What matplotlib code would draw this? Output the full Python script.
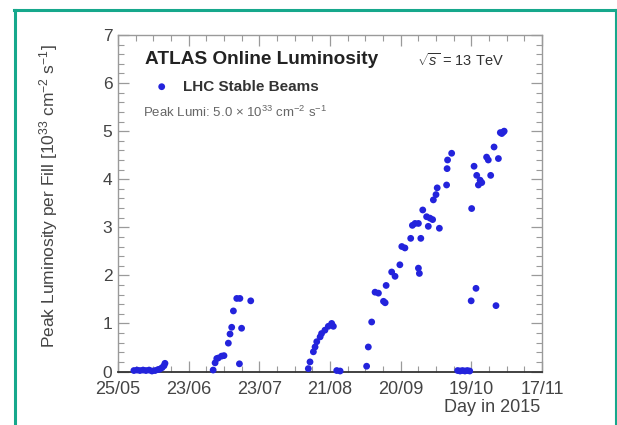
import matplotlib
matplotlib.use("Agg")
import matplotlib.pyplot as plt
from matplotlib.lines import Line2D
from matplotlib.ticker import MultipleLocator, FixedLocator
import numpy as np

plt.rcParams["font.family"] = ["Liberation Sans", "DejaVu Sans"]
plt.rcParams["mathtext.fontset"] = "custom"
plt.rcParams["mathtext.rm"] = "Liberation Sans"
plt.rcParams["mathtext.it"] = "Liberation Sans:italic"

# Day axis: days counted from 25 May 2015
tick_labels = ["25/05", "23/06", "23/07", "21/08", "20/09", "19/10", "17/11"]
x_span = 176.0

# Peak luminosity per fill [1e33 cm^-2 s^-1]
june_day = [6.6, 7.9, 9.1, 10.4, 11.6, 12.9, 14.1, 15.4, 16.6, 17.4, 18.3, 19.1, 19.5]
june_lumi = [0.02, 0.03, 0.02, 0.03, 0.02, 0.03, 0.01, 0.02, 0.04, 0.05, 0.08, 0.12, 0.17]

july_day = [39.5, 40.3, 41.0, 41.6, 43.0, 44.0, 45.8, 46.5, 47.2, 47.9, 49.3, 50.6, 51.3, 50.4, 55.1]
july_lumi = [0.03, 0.18, 0.27, 0.28, 0.32, 0.33, 0.59, 0.78, 0.92, 1.26, 1.52, 1.52, 0.90, 0.16, 1.47]

aug_day = [79.0, 79.7, 81.1, 81.8, 82.5, 83.9, 84.5, 85.9, 87.3, 88.7, 89.4, 90.8, 92.2]
aug_lumi = [0.06, 0.20, 0.41, 0.51, 0.62, 0.72, 0.79, 0.86, 0.94, 1.00, 0.94, 0.02, 0.01]

sep_day = [103.2, 103.9, 105.3, 106.7, 108.1, 110.2, 110.9, 111.3, 113.6, 115.0, 117.0,
           117.8, 119.1, 121.5, 122.2, 123.3, 124.7, 125.7, 124.7, 125.1, 126.5, 128.1,
           129.5, 128.8, 130.6, 133.4, 130.9, 132.0, 132.5, 136.4, 136.6, 136.8, 138.5,
           141.0, 142.0, 143.0, 144.0, 145.0, 146.0]
sep_lumi = [0.11, 0.51, 1.03, 1.65, 1.63, 1.46, 1.43, 1.79, 2.07, 1.98, 2.22,
            2.60, 2.57, 2.77, 3.04, 3.08, 3.08, 2.77, 2.15, 2.04, 3.36, 3.22,
            3.19, 3.02, 3.16, 2.98, 3.57, 3.68, 3.82, 3.88, 4.22, 4.40, 4.54,
            0.02, 0.01, 0.02, 0.01, 0.02, 0.01]

oct_day = [146.8, 146.6, 148.6, 147.8, 149.6, 150.3, 151.0, 148.9, 153.0, 153.7,
           154.7, 156.1, 157.9, 156.9, 159.3, 159.9, 160.3, 158.7]
oct_lumi = [3.39, 1.47, 1.73, 4.27, 3.88, 3.98, 3.93, 4.08, 4.46, 4.40,
            4.08, 4.67, 4.43, 1.37, 4.95, 4.98, 5.00, 4.97]

day = np.concatenate([june_day, july_day, aug_day, sep_day, oct_day])
lumi = np.concatenate([june_lumi, july_lumi, aug_lumi, sep_lumi, oct_lumi])

W, H = 617, 425
fig = plt.figure(figsize=(W / 100, H / 100), dpi=100)
fig.patch.set_facecolor("white")

ax = fig.add_axes([118 / W, 1 - 371.5 / H, (542 - 118) / W, (371.5 - 35) / H])
ax.scatter(day, lumi, s=24, color="#2323dc", edgecolors="none", zorder=3, clip_on=False)

ax.set_xlim(0, x_span)
ax.set_ylim(0, 7)

major_x = np.linspace(0, x_span, len(tick_labels))
ax.xaxis.set_major_locator(FixedLocator(major_x))
ax.xaxis.set_minor_locator(FixedLocator(np.linspace(0, x_span, 4 * (len(tick_labels) - 1) + 1)))
ax.set_xticklabels(tick_labels)
ax.yaxis.set_major_locator(MultipleLocator(1))
ax.yaxis.set_minor_locator(MultipleLocator(0.2))

gray = "#9a9a9a"
for side in ["top", "left", "right"]:
    ax.spines[side].set_color(gray)
    ax.spines[side].set_linewidth(1.0)
ax.spines["bottom"].set_color("#333333")
ax.spines["bottom"].set_linewidth(1.3)

ax.tick_params(which="both", direction="in", top=True, right=True, color=gray)
ax.tick_params(which="major", length=8, width=0.9)
ax.tick_params(which="minor", length=4, width=0.8)
ax.tick_params(axis="x", which="major", labelsize=13, labelcolor="#444444", pad=7)
ax.tick_params(axis="y", which="major", labelsize=12.5, labelcolor="#444444", pad=4)

ax.set_ylabel(r"Peak Luminosity per Fill [10$^{33}$ cm$^{-2}$ s$^{-1}$]",
              fontsize=12.5, color="#444444")
ax.yaxis.set_label_coords(-0.137, 0.52)
fig.text(540 / W, 1 - 408 / H, "Day in 2015", ha="right", va="center",
         fontsize=13, color="#444444")

# Header texts inside the frame
fig.text(145 / W, 1 - 60 / H, "ATLAS Online Luminosity", ha="left", va="center",
         fontsize=13.7, fontweight="bold", color="#222222")
fig.text(417 / W, 1 - 60 / H, r"$\sqrt{s}$ = 13 TeV", ha="left", va="center",
         fontsize=10.5, color="#333333")
ax.scatter([161.7 / W], [1 - 86.7 / H], s=24, color="#2323dc", edgecolors="none",
           transform=fig.transFigure, clip_on=False)
fig.text(183 / W, 1 - 86.7 / H, "LHC Stable Beams", ha="left", va="center",
         fontsize=11, fontweight="bold", color="#333333")
fig.text(143 / W, 1 - 112 / H,
         r"Peak Lumi: 5.0 $\times$ 10$^{33}$ cm$^{-2}$ s$^{-1}$",
         ha="left", va="center", fontsize=9.5, color="#666666")

# Teal page frame
teal = "#16a88c"
fig.add_artist(Line2D([14 / W, 615.5 / W], [1 - 10 / H, 1 - 10 / H],
                      transform=fig.transFigure, color=teal, lw=2.2))
fig.add_artist(Line2D([14.5 / W, 14.5 / W], [0, 1 - 10 / H],
                      transform=fig.transFigure, color=teal, lw=2.2))
fig.add_artist(Line2D([615.5 / W, 615.5 / W], [0, 1 - 10 / H],
                      transform=fig.transFigure, color=teal, lw=1.5))

fig.savefig("out.png", dpi=100, facecolor="white")
